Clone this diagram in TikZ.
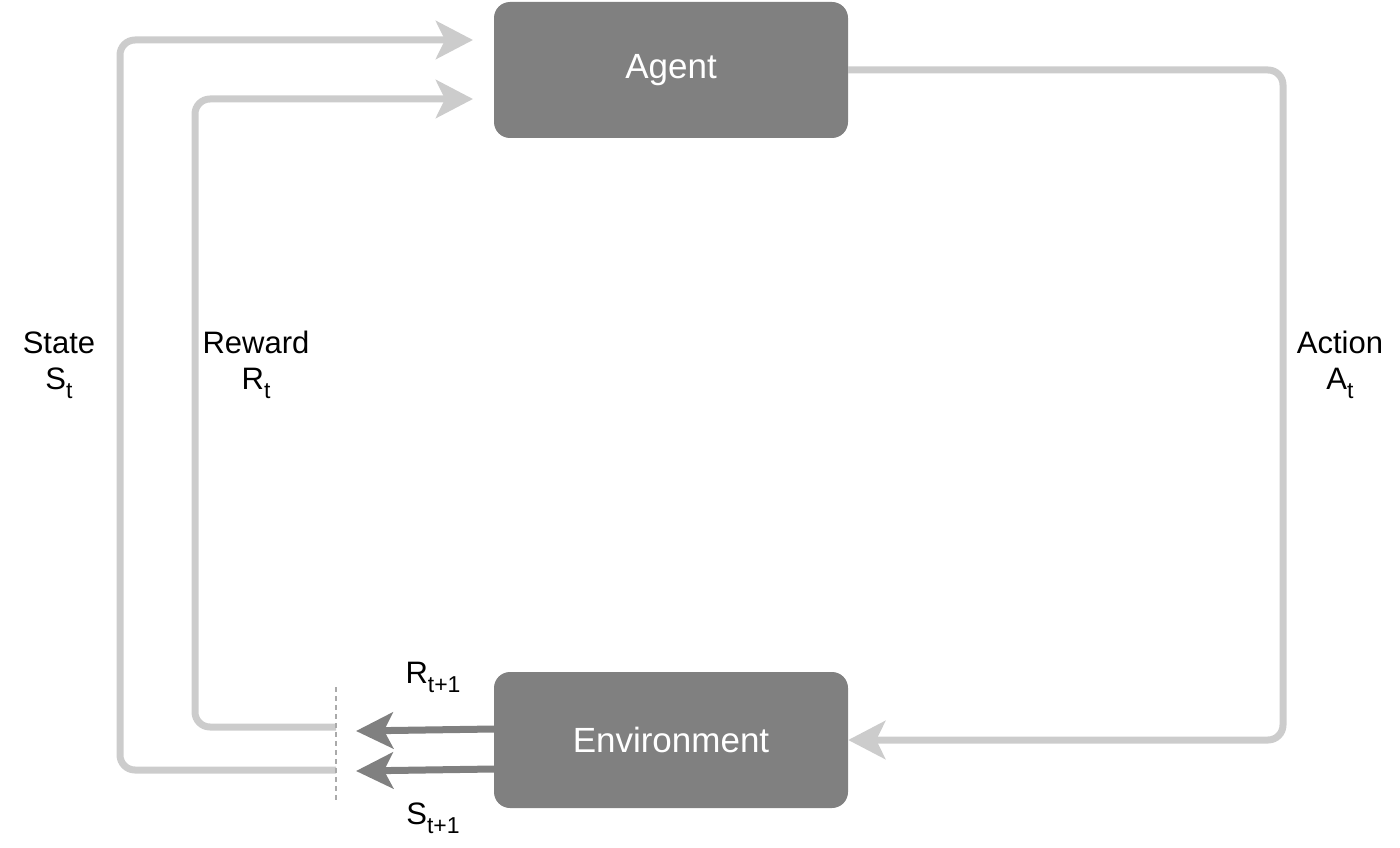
\documentclass[tikz,border=0pt]{standalone}
\usepackage{fontspec}
\setmainfont{Liberation Sans}
\usetikzlibrary{arrows.meta}
\definecolor{boxgray}{HTML}{808080}
\definecolor{linegray}{HTML}{CCCCCC}
\definecolor{dashgray}{HTML}{AAAAAA}
\newcommand\mysub[1]{\raisebox{-9pt}{\fontsize{23}{23}\selectfont #1}}
\begin{document}
\begin{tikzpicture}[x=1pt,y=-1pt,
  box/.style={fill=boxgray, rounded corners=16pt, minimum width=354pt, minimum height=136pt, text=white, font=\fontsize{35}{40}\selectfont, inner sep=0pt},
  light/.style={draw=linegray, line width=7pt, rounded corners=15pt, -{Stealth[length=37pt,width=38pt,inset=9pt]}},
  dark/.style={draw=boxgray, line width=7pt, -{Stealth[length=37pt,width=36pt,inset=9pt]}},
  lbl/.style={font=\fontsize{31}{36}\selectfont, anchor=base, inner sep=0pt},
  sep/.style={draw=dashgray, line width=1.2pt, dash pattern=on 5pt off 4pt},
]
\useasboundingbox (0,0) rectangle (1400,848);
\node[box] (agent) at (671,70) {Agent};
\node[box] (env) at (671,740) {Environment};

\coordinate (sIn) at (473,40);
\coordinate (rIn) at (473,99);
\coordinate (sOut) at (336,770);
\coordinate (rOut) at (336,727);
\coordinate (rTip) at (356,731);
\coordinate (sTip) at (356,771);
\coordinate (dTop) at (336,687);
\coordinate (dBot) at (336,800);

% state and reward feedback
\draw[light] (sOut) -- (120,770) -- (120,40) -- (sIn);
\draw[light] (rOut) -- (195,727) -- (195,99) -- (rIn);
% action
\draw[light] (agent.east) -- (1283,70) -- (1283,740) -- (env.east);
% environment outputs
\draw[dark] (494,729) -- (rTip);
\draw[dark] (494,769) -- (sTip);
% separator
\draw[sep] (dTop) -- (dBot);

% labels
\node[lbl] (stateL) at (59,353) {State};
\node[lbl] (stateS) at (59,389) {S\mysub{t}};
\node[lbl] (rewL) at (256,353) {Reward};
\node[lbl] (rewS) at (256,389) {R\mysub{t}};
\node[lbl] (actL) at (1340,353) {Action};
\node[lbl] (actS) at (1340,389) {A\mysub{t}};
\node[lbl] (rNext) at (433,683) {R\mysub{t+1}};
\node[lbl] (sNext) at (433,824) {S\mysub{t+1}};
\end{tikzpicture}
\end{document}
